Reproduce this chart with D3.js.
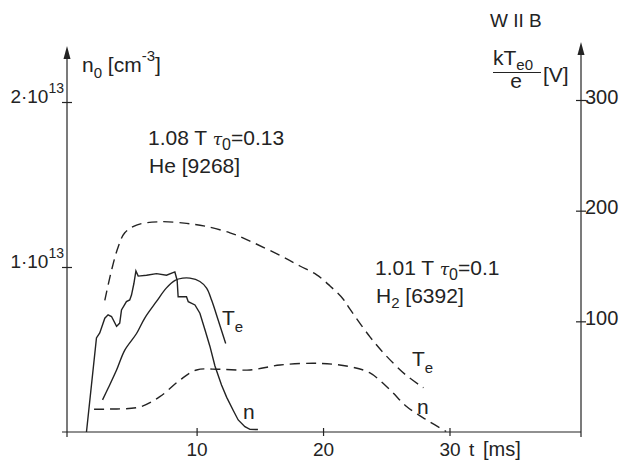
<!DOCTYPE html>
<html><head><meta charset="utf-8">
<script src="https://cdn.jsdelivr.net/npm/d3@7"></script>
<style>
html,body{margin:0;padding:0;background:#fff;}
svg text{font-family:"Liberation Sans",Arial,Helvetica,sans-serif;fill:#232323;}
</style></head><body>
<svg id="chart" width="621" height="461"></svg>
<script>
// Tick values
const tickT = [10, 20, 30];          // t [ms]
const tickN = [1, 2];                // n0 in units of 10^13 cm^-3
const tickV = [100, 200, 300];       // kTe0/e [V]

// He discharge #9268 (1.08 T): central density, 10^13 cm^-3
const heNTime = [1.29, 2.08, 2.34, 2.74, 3.0, 3.27, 3.67, 3.92, 4.06, 4.45, 4.71, 4.85, 5.04, 5.2, 5.38,
  6.04, 6.83, 7.62, 8.28, 8.46, 8.54, 9.0, 9.2, 9.34, 9.87, 10.26, 10.66, 11.05, 11.45, 11.97, 12.38,
  12.9, 13.29, 13.82, 14.22, 14.85];
const heN = [0, 0.57, 0.60, 0.69, 0.71, 0.70, 0.64, 0.66, 0.74, 0.79, 0.80, 0.83, 0.90, 0.976, 0.945,
  0.95, 0.96, 0.95, 0.97, 0.92, 0.82, 0.82, 0.82, 0.79, 0.77, 0.72, 0.62, 0.52, 0.40, 0.285, 0.21,
  0.13, 0.073, 0.032, 0.016, 0.015];

// He discharge #9268: electron temperature, V
const heTeTime = [2.56, 3.0, 3.67, 4.32, 5.25, 5.9, 6.83, 7.6, 8.3, 8.9, 9.47, 10.26, 10.79, 11.19, 11.71, 12.3];
const heTe = [29, 39.5, 56, 74, 89, 103, 118, 130, 137, 139, 139, 136, 130, 119, 101, 80];

// H2 discharge #6392 (1.01 T): electron temperature, V
const h2TeTime = [2.74, 3.27, 3.79, 4.32, 5.25, 7.09, 9.21, 10.66, 12.64, 14.22, 16.86, 18.17, 19.5,
  20.55, 21.6, 22.13, 23.71, 24.9, 26.5, 27.94];
const h2Te = [119, 146, 167, 180, 187, 190, 188.5, 186, 180, 172.5, 158, 150, 142, 132, 120, 111, 86, 70, 52, 40];

// H2 discharge #6392: central density, 10^13 cm^-3
const h2NTime = [1.89, 3.14, 5.51, 7.09, 8.68, 10.0, 11.84, 14.22, 16.6, 19.76, 22.13, 23.71, 25.3,
  26.63, 28.2, 29.74];
const h2N = [0.138, 0.139, 0.152, 0.214, 0.315, 0.376, 0.38, 0.376, 0.406, 0.416, 0.396, 0.358, 0.255,
  0.153, 0.073, 0.003];

const svg = d3.select("#chart");
const ink = "#232323";

const x = d3.scaleLinear().domain([-0.25, 40.4]).range([67, 581]);
const yN = d3.scaleLinear().domain([0, 2]).range([432, 102]);
const yV = d3.scaleLinear().domain([0, 300]).range([432, 100]);

const x0 = x.range()[0], x1 = x.range()[1], yBase = yN(0);

// axis lines with arrow heads
const g = svg.append("g").attr("stroke", ink).attr("stroke-width", 1.2).attr("fill", "none");
g.append("line").attr("x1", x0 - 5).attr("x2", x1).attr("y1", yBase).attr("y2", yBase);
g.append("line").attr("x1", x0).attr("x2", x0).attr("y1", yBase + 5).attr("y2", 52);
g.append("line").attr("x1", x1).attr("x2", x1).attr("y1", yBase + 5).attr("y2", 48);
svg.append("path").attr("fill", ink)
  .attr("d", `M${x0},46 L${x0 - 3.5},59 L${x0 + 3.5},59 Z`);
svg.append("path").attr("fill", ink)
  .attr("d", `M${x1},42 L${x1 - 3.5},55 L${x1 + 3.5},55 Z`);

// bottom axis: crossing ticks and labels
const ax = svg.append("g").attr("transform", `translate(0,${yBase})`)
  .call(d3.axisBottom(x).tickValues(tickT).tickSize(4).tickFormat(d3.format("d")));
ax.select(".domain").remove();
ax.selectAll(".tick line").attr("y1", -4).attr("y2", 4).attr("stroke", ink).attr("stroke-width", 1.2);
ax.selectAll(".tick text").attr("y", 24).attr("dy", 0)
  .attr("font-size", 19).attr("font-family", null).attr("fill", ink);
svg.append("text").attr("x", 469).attr("y", 456).attr("font-size", 19).text("t");
svg.append("text").attr("x", 483).attr("y", 456).attr("font-size", 20).text("[ms]");

// left axis: density
const al = svg.append("g").attr("transform", `translate(${x0},0)`)
  .call(d3.axisLeft(yN).tickValues(tickN).tickSize(5));
al.select(".domain").remove();
al.selectAll(".tick line").attr("x1", -5).attr("x2", 5).attr("stroke", ink).attr("stroke-width", 1.2);
al.selectAll(".tick text").remove();
tickN.forEach(v => {
  const t = svg.append("text").attr("x", 64).attr("y", yN(v) + 1).attr("text-anchor", "end").attr("font-size", 19);
  t.append("tspan").text(v + "·10");
  t.append("tspan").attr("font-size", 14).attr("dy", -10).text("13");
});

// right axis: temperature
const ar = svg.append("g").attr("transform", `translate(${x1},0)`)
  .call(d3.axisRight(yV).tickValues(tickV).tickSize(5).tickFormat(d3.format("d")));
ar.select(".domain").remove();
ar.selectAll(".tick line").attr("x1", -5).attr("x2", 5).attr("stroke", ink).attr("stroke-width", 1.2);
ar.selectAll(".tick text").attr("x", 4).attr("dy", 3).attr("font-size", 20)
  .attr("font-family", null).attr("fill", ink).attr("dominant-baseline", "auto");

// axis titles
const tl = svg.append("text").attr("x", 82).attr("y", 72).attr("font-size", 21);
tl.append("tspan").text("n");
tl.append("tspan").attr("font-size", 15).attr("dy", 6).text("0");
tl.append("tspan").attr("dy", -6).text(" [cm");
tl.append("tspan").attr("font-size", 15).attr("dy", -11).text("-3");
tl.append("tspan").attr("dy", 11).text("]");

const tr = svg.append("text").attr("x", 493).attr("y", 65).attr("font-size", 21);
tr.append("tspan").text("kT");
tr.append("tspan").attr("font-size", 15).attr("dy", 5).text("e0");
svg.append("line").attr("x1", 493).attr("x2", 541).attr("y1", 72.5).attr("y2", 72.5)
  .attr("stroke", ink).attr("stroke-width", 1);
svg.append("text").attr("x", 516).attr("y", 88).attr("text-anchor", "middle").attr("font-size", 21).text("e");
svg.append("text").attr("x", 543).attr("y", 82).attr("font-size", 21).text("[V]");

svg.append("text").attr("x", 490).attr("y", 27).attr("font-size", 19).text("W II B");

// discharge parameter annotations
function paramLabel(px, py, field, tau, gas, gasSub, shot) {
  const a = svg.append("text").attr("x", px).attr("y", py).attr("font-size", 21);
  a.append("tspan").text(field + " T ");
  a.append("tspan").attr("font-style", "italic").attr("font-family", "DejaVu Serif, serif").attr("font-size", 17).text("τ");
  a.append("tspan").attr("font-size", 16).attr("dy", 5).text("0");
  a.append("tspan").attr("dy", -5).text("=" + tau);
  const b = svg.append("text").attr("x", px + 1).attr("y", py + 28).attr("font-size", 21);
  b.append("tspan").text(gas);
  if (gasSub) b.append("tspan").attr("font-size", 15).attr("dy", 5).text(gasSub);
  b.append("tspan").attr("dy", gasSub ? -5 : 0).text(" [" + shot + "]");
}
paramLabel(148, 145, "1.08", "0.13", "He", null, "9268");
paramLabel(375, 275, "1.01", "0.1", "H", "2", "6392");

// curves
const curves = [
  {t: heNTime, v: heN, y: yN, dash: null, curve: d3.curveLinear},
  {t: heTeTime, v: heTe, y: yV, dash: null, curve: d3.curveCatmullRom},
  {t: h2TeTime, v: h2Te, y: yV, dash: "10,6", curve: d3.curveCatmullRom},
  {t: h2NTime, v: h2N, y: yN, dash: "10,6", curve: d3.curveCatmullRom}
];
curves.forEach(c => {
  const pts = c.t.map((t, i) => [t, c.v[i]]);
  svg.append("path").datum(pts)
    .attr("fill", "none").attr("stroke", ink).attr("stroke-width", 1.4)
    .attr("stroke-dasharray", c.dash)
    .attr("d", d3.line().x(d => x(d[0])).y(d => c.y(d[1])).curve(c.curve));
});

// curve labels
function teLabel(px, py) {
  const t = svg.append("text").attr("x", px).attr("y", py).attr("font-size", 21);
  t.append("tspan").text("T");
  t.append("tspan").attr("font-size", 15).attr("dy", 7).text("e");
}
teLabel(222, 325);
teLabel(412, 366);
svg.append("text").attr("x", 243).attr("y", 419).attr("font-size", 21).text("n");
svg.append("text").attr("x", 417).attr("y", 414).attr("font-size", 21).text("n");
</script>
</body></html>
